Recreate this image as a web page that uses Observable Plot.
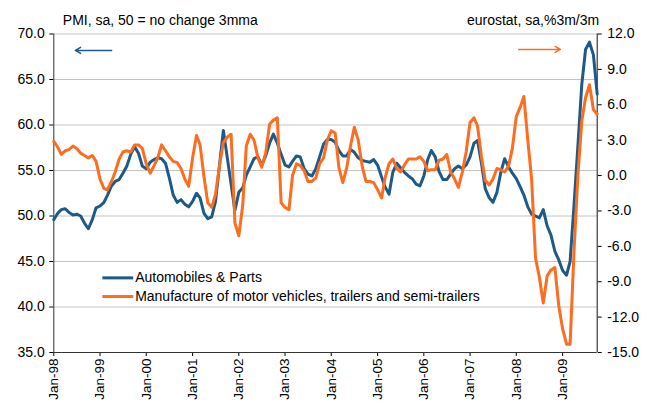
<!DOCTYPE html>
<html>
<head>
<meta charset="utf-8">
<script src="https://cdn.jsdelivr.net/npm/d3@7"></script>
<script src="https://cdn.jsdelivr.net/npm/@observablehq/plot@0.6"></script>
<style>
  html, body { margin: 0; padding: 0; background: #fff; }
</style>
</head>
<body>
<div id="chart"></div>
<script>
// ---- data ----
const seriesNames = ["Automobiles & Parts", "Manufacture of motor vehicles, trailers and semi-trailers"];
const leftTitle = "PMI, sa, 50 = no change 3mma";
const rightTitle = "eurostat, sa,%3m/3m";

// PMI Automobiles & Parts (left axis), monthly from Jan-98
const autoPMI = [
  49.6, 50.3, 50.7, 50.8, 50.4, 50.1, 50.2, 50.0, 49.2, 48.6,
  49.6, 50.9, 51.1, 51.5, 52.3, 53.3, 53.8, 54.0, 54.7, 55.5,
  56.8, 57.6, 56.9, 55.5, 55.2, 55.9, 56.2, 56.4, 56.3, 55.8,
  54.2, 52.3, 51.5, 51.8, 51.3, 51.0, 51.6, 52.5, 52.0, 50.3,
  49.7, 49.9, 51.6, 55.5, 59.4, 56.5, 53.5, 50.6, 52.6, 53.1,
  54.5, 55.4, 56.3, 56.5, 55.6, 56.6, 58.0, 59.0, 58.0, 56.8,
  55.6, 55.4, 56.0, 56.6, 56.5, 55.2, 54.6, 54.4, 55.2, 56.5,
  57.9, 58.4, 58.4, 58.1, 57.2, 56.6, 56.6, 57.3, 57.0, 56.4,
  56.1, 56.0, 55.9, 56.2, 55.6, 54.3, 53.2, 52.4, 54.8, 55.8,
  55.3, 54.8, 54.4, 54.1, 53.5, 53.3, 54.4, 56.2, 57.2, 56.5,
  54.9, 54.0, 54.0, 54.6, 55.2, 55.5, 55.2, 55.6, 56.5, 58.0,
  58.3, 55.8, 53.0, 52.0, 51.5, 52.6, 54.8, 56.3, 55.4, 54.7,
  54.1, 53.2, 52.3, 51.0, 50.2, 50.0, 49.8, 50.7, 48.9, 47.9,
  46.1, 45.2, 44.0, 43.5, 45.0, 51.2, 57.6, 64.4, 68.3, 69.1,
  67.7, 63.4
];

// Eurostat manufacture of motor vehicles, %3m/3m (right axis)
const motorVehicles = [
  2.9, 2.4, 1.8, 2.1, 2.2, 2.5, 2.3, 1.9, 1.7, 1.5,
  1.7, 1.2, -0.3, -1.1, -1.2, -0.5, 0.3, 1.4, 2.0, 2.1,
  2.0, 2.6, 2.6, 2.3, 1.0, 0.2, 0.8, 1.5, 2.6, 2.1,
  1.6, 1.2, 1.1, 0.6, -0.3, -0.9, 1.5, 3.4, 2.6, -0.1,
  -2.3, -2.7, -1.6, 0.8, 2.8, 3.25, 3.5, -4.0, -5.1, -2.5,
  2.5, 3.5, 3.0, 1.5, 0.7, 1.9, 4.35, 4.7, 4.9, -2.3,
  -2.7, -2.9, 0.0, 1.0, 0.85, 0.4, -0.5, -0.5, -0.2, 1.0,
  1.5, 3.0, 3.8, 3.6, 0.7, -0.6, 0.6, 2.5, 4.1, 3.0,
  0.8, -0.5, -0.5, -0.6, -1.2, -1.9, -0.2, 1.0, 1.4, 0.6,
  0.3, 0.9, 1.4, 1.4, 1.4, 1.6, 1.2, 0.4, 0.5, 0.5,
  1.3, 1.4, 1.8, 0.3, -0.3, -1.0, 0.3, 2.0, 4.5, 4.9,
  4.2, 1.6, -0.4, -0.8, -0.3, 0.6, 0.5, 0.3, 0.8, 2.3,
  5.0, 5.8, 6.7, 3.0, -0.3, -7.0, -8.6, -10.8, -8.5, -8.0,
  -7.8, -11.0, -13.0, -14.3, -14.3, -6.4, -0.1, 4.6, 6.6, 7.7,
  5.6, 5.2
];

const leftTicks = [35, 40, 45, 50, 55, 60, 65, 70];
const rightTicks = [-15, -12, -9, -6, -3, 0, 3, 6, 9, 12];
const xTickLabels = ["Jan-98","Jan-99","Jan-00","Jan-01","Jan-02","Jan-03","Jan-04","Jan-05","Jan-06","Jan-07","Jan-08","Jan-09"];

// ---- build ----
const blue = "#1d5a89";
const orange = "#fd6d1f";
const FS = 14;
const start = new Date(Date.UTC(1998, 0, 1));
const end = d3.utcMonth.offset(start, 141);
const toLeft = d3.scaleLinear([-15, 12], [35, 70]);
const rows = autoPMI.map((v, i) => ({
  date: d3.utcMonth.offset(start, i),
  auto: v,
  mfg: toLeft(motorVehicles[i])
}));
const xTicks = xTickLabels.map((_, i) => new Date(Date.UTC(1998 + i, 0, 1)));
const fmtRight = d => { const r = Math.round(toLeft.invert(d) * 10) / 10; return (r === 0 ? 0 : r).toFixed(1); };
const monthDate = m => new Date(start.getTime() + m * 30.44 * 86400000);

const legend = [
  {label: seriesNames[0], color: blue, y: 43.2},
  {label: seriesNames[1], color: orange, y: 41.15}
];
const legX1 = monthDate(12.6), legX2 = monthDate(20.6), legText = monthDate(21.1);

const chart = Plot.plot({
  width: 653,
  height: 401,
  marginTop: 33.5,
  marginBottom: 49,
  marginLeft: 53.3,
  marginRight: 56.3,
  style: {fontFamily: "'Liberation Sans', Arial, sans-serif", fontSize: FS + "px", color: "#000", background: "#fff", overflow: "visible"},
  x: {type: "utc", domain: [start, end]},
  y: {domain: [35, 70]},
  marks: [
    Plot.ruleY(leftTicks.filter(d => d > 35), {stroke: "#c4c4c4", strokeWidth: 1}),
    Plot.axisY(leftTicks, {anchor: "left", tickFormat: d => d.toFixed(1), tickSize: 4, tickPadding: 5, label: null, fontSize: FS}),
    Plot.axisY(rightTicks.map(toLeft), {anchor: "right", tickFormat: fmtRight, tickSize: 4, tickPadding: 6, label: null, fontSize: FS}),
    Plot.axisX(xTicks, {anchor: "bottom", tickRotate: -90, tickFormat: d => xTickLabels[d.getUTCFullYear() - 1998], tickSize: 4, tickPadding: 2, label: null, fontSize: 13.5}),
    Plot.ruleX([start], {stroke: "#333"}),
    Plot.ruleX([end], {stroke: "#111"}),
    Plot.ruleY([35], {stroke: "#333"}),
    Plot.line(rows, {x: "date", y: "auto", stroke: blue, strokeWidth: 3}),
    Plot.line(rows, {x: "date", y: "mfg", stroke: orange, strokeWidth: 3}),
    Plot.text([leftTitle], {frameAnchor: "top-left", dx: 9, dy: -9, lineAnchor: "bottom", textAnchor: "start", fontSize: FS}),
    Plot.text([rightTitle], {frameAnchor: "top-right", dx: 2, dy: -9, lineAnchor: "bottom", textAnchor: "end", fontSize: FS}),
    Plot.arrow([{x1: monthDate(15), x2: monthDate(5.6), y: 68.2}], {x1: "x1", x2: "x2", y1: "y", y2: "y", stroke: blue, strokeWidth: 1.5, headLength: 6}),
    Plot.arrow([{x1: monthDate(120.6), x2: monthDate(131.4), y: 68.3}], {x1: "x1", x2: "x2", y1: "y", y2: "y", stroke: orange, strokeWidth: 1.5, headLength: 6}),
    Plot.link(legend, {x1: () => legX1, x2: () => legX2, y1: "y", y2: "y", stroke: "color", strokeWidth: 3}),
    Plot.text(legend, {x: () => legText, y: "y", text: "label", textAnchor: "start", fontSize: FS})
  ]
});
document.getElementById("chart").appendChild(chart);
</script>
</body>
</html>
